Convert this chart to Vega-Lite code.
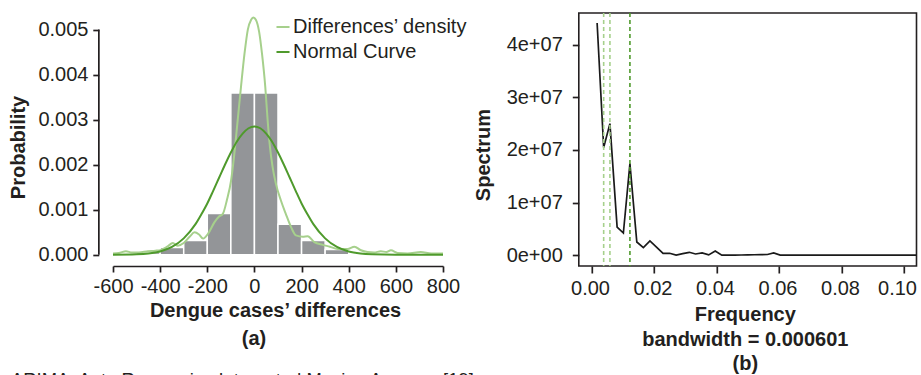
{
  "$schema": "https://vega.github.io/schema/vega-lite/v6.json",
  "background": "white",
  "padding": {"left": 7, "top": 11, "right": 0, "bottom": 0},
  "bounds": "flush",
  "spacing": 135.8,
  "title": {"text": "ARIMA: Auto Regressive Integrated Moving Average [19]", "orient": "bottom", "anchor": "start", "frame": "bounds", "offset": -4, "dx": 3, "fontSize": 18.4, "fontWeight": "normal", "font": "Liberation Sans", "color": "#231f20"},
  "config": {
    "font": "Liberation Sans",
    "view": {"stroke": null},
    "axis": {
      "grid": false,
      "labelFont": "Liberation Sans",
      "labelFontSize": 20,
      "labelColor": "#231f20",
      "titleFont": "Liberation Sans",
      "titleFontSize": 20,
      "titleFontWeight": "bold",
      "titleColor": "#231f20",
      "tickColor": "#231f20",
      "tickWidth": 1.7,
      "domainColor": "#231f20",
      "domainWidth": 1.7,
      "labelOverlap": false,
      "labelBound": false,
      "labelFlush": false
    }
  },
  "datasets": {
    "hist": [
      {"lo": -500, "hi": -400, "dens": 0.00005},
      {"lo": -400, "hi": -300, "dens": 0.00016},
      {"lo": -300, "hi": -200, "dens": 0.00032},
      {"lo": -200, "hi": -100, "dens": 0.000915},
      {"lo": -100, "hi": 0, "dens": 0.00359},
      {"lo": 0, "hi": 100, "dens": 0.00359},
      {"lo": 100, "hi": 200, "dens": 0.000677},
      {"lo": 200, "hi": 300, "dens": 0.00032},
      {"lo": 300, "hi": 400, "dens": 0.000115}
    ],
    "curves": [
      {"series": "Differences’ density", "x": -600, "p": 0.00003},
      {"series": "Differences’ density", "x": -575, "p": 0.00004},
      {"series": "Differences’ density", "x": -545, "p": 0.00008},
      {"series": "Differences’ density", "x": -520, "p": 0.00005},
      {"series": "Differences’ density", "x": -490, "p": 0.00005},
      {"series": "Differences’ density", "x": -452, "p": 0.00008},
      {"series": "Differences’ density", "x": -420, "p": 0.00009},
      {"series": "Differences’ density", "x": -396, "p": 0.00011},
      {"series": "Differences’ density", "x": -370, "p": 0.00018},
      {"series": "Differences’ density", "x": -346, "p": 0.00026},
      {"series": "Differences’ density", "x": -325, "p": 0.0002},
      {"series": "Differences’ density", "x": -300, "p": 0.00026},
      {"series": "Differences’ density", "x": -275, "p": 0.0004},
      {"series": "Differences’ density", "x": -254, "p": 0.0005},
      {"series": "Differences’ density", "x": -235, "p": 0.00045},
      {"series": "Differences’ density", "x": -218, "p": 0.00036},
      {"series": "Differences’ density", "x": -195, "p": 0.00048},
      {"series": "Differences’ density", "x": -170, "p": 0.00072},
      {"series": "Differences’ density", "x": -150, "p": 0.00085},
      {"series": "Differences’ density", "x": -134, "p": 0.00091},
      {"series": "Differences’ density", "x": -117, "p": 0.00121},
      {"series": "Differences’ density", "x": -99, "p": 0.00165},
      {"series": "Differences’ density", "x": -85, "p": 0.00225},
      {"series": "Differences’ density", "x": -71, "p": 0.00299},
      {"series": "Differences’ density", "x": -57, "p": 0.00373},
      {"series": "Differences’ density", "x": -42, "p": 0.00447},
      {"series": "Differences’ density", "x": -28, "p": 0.005},
      {"series": "Differences’ density", "x": -14, "p": 0.00522},
      {"series": "Differences’ density", "x": -5, "p": 0.00527},
      {"series": "Differences’ density", "x": 6, "p": 0.00522},
      {"series": "Differences’ density", "x": 20, "p": 0.00495},
      {"series": "Differences’ density", "x": 32, "p": 0.00447},
      {"series": "Differences’ density", "x": 46, "p": 0.00373},
      {"series": "Differences’ density", "x": 56, "p": 0.00299},
      {"series": "Differences’ density", "x": 66, "p": 0.00239},
      {"series": "Differences’ density", "x": 77, "p": 0.00195},
      {"series": "Differences’ density", "x": 91, "p": 0.00158},
      {"series": "Differences’ density", "x": 112, "p": 0.00121},
      {"series": "Differences’ density", "x": 133, "p": 0.00091},
      {"series": "Differences’ density", "x": 155, "p": 0.00062},
      {"series": "Differences’ density", "x": 176, "p": 0.00043},
      {"series": "Differences’ density", "x": 205, "p": 0.0004},
      {"series": "Differences’ density", "x": 226, "p": 0.00041},
      {"series": "Differences’ density", "x": 254, "p": 0.00028},
      {"series": "Differences’ density", "x": 290, "p": 0.00022},
      {"series": "Differences’ density", "x": 320, "p": 0.00018},
      {"series": "Differences’ density", "x": 353, "p": 0.00013},
      {"series": "Differences’ density", "x": 395, "p": 0.00013},
      {"series": "Differences’ density", "x": 424, "p": 0.00018},
      {"series": "Differences’ density", "x": 452, "p": 0.0001},
      {"series": "Differences’ density", "x": 480, "p": 0.00006},
      {"series": "Differences’ density", "x": 508, "p": 0.00005},
      {"series": "Differences’ density", "x": 536, "p": 0.00008},
      {"series": "Differences’ density", "x": 560, "p": 0.00006},
      {"series": "Differences’ density", "x": 579, "p": 0.0001},
      {"series": "Differences’ density", "x": 607, "p": 0.00004},
      {"series": "Differences’ density", "x": 650, "p": 0.00003},
      {"series": "Differences’ density", "x": 706, "p": 0.00006},
      {"series": "Differences’ density", "x": 750, "p": 0.00003},
      {"series": "Differences’ density", "x": 800, "p": 0.00003},
      {"series": "Normal Curve", "x": -600, "p": 0.0},
      {"series": "Normal Curve", "x": -500, "p": 0.00001},
      {"series": "Normal Curve", "x": -450, "p": 0.000028},
      {"series": "Normal Curve", "x": -400, "p": 0.000074},
      {"series": "Normal Curve", "x": -350, "p": 0.000174},
      {"series": "Normal Curve", "x": -300, "p": 0.000365},
      {"series": "Normal Curve", "x": -250, "p": 0.00068},
      {"series": "Normal Curve", "x": -225, "p": 0.0009},
      {"series": "Normal Curve", "x": -200, "p": 0.00114},
      {"series": "Normal Curve", "x": -175, "p": 0.00142},
      {"series": "Normal Curve", "x": -150, "p": 0.00171},
      {"series": "Normal Curve", "x": -125, "p": 0.002},
      {"series": "Normal Curve", "x": -100, "p": 0.00227},
      {"series": "Normal Curve", "x": -75, "p": 0.00251},
      {"series": "Normal Curve", "x": -50, "p": 0.00269},
      {"series": "Normal Curve", "x": -25, "p": 0.00281},
      {"series": "Normal Curve", "x": 0, "p": 0.00285},
      {"series": "Normal Curve", "x": 25, "p": 0.00281},
      {"series": "Normal Curve", "x": 50, "p": 0.00269},
      {"series": "Normal Curve", "x": 75, "p": 0.00251},
      {"series": "Normal Curve", "x": 100, "p": 0.00227},
      {"series": "Normal Curve", "x": 125, "p": 0.002},
      {"series": "Normal Curve", "x": 150, "p": 0.00171},
      {"series": "Normal Curve", "x": 175, "p": 0.00142},
      {"series": "Normal Curve", "x": 200, "p": 0.00114},
      {"series": "Normal Curve", "x": 225, "p": 0.0009},
      {"series": "Normal Curve", "x": 250, "p": 0.00068},
      {"series": "Normal Curve", "x": 300, "p": 0.000365},
      {"series": "Normal Curve", "x": 350, "p": 0.000174},
      {"series": "Normal Curve", "x": 400, "p": 0.000074},
      {"series": "Normal Curve", "x": 450, "p": 0.000028},
      {"series": "Normal Curve", "x": 500, "p": 0.00001},
      {"series": "Normal Curve", "x": 600, "p": 0.0},
      {"series": "Normal Curve", "x": 700, "p": 0.0},
      {"series": "Normal Curve", "x": 800, "p": 0.0}
    ],
    "spec": [
      {"f": 0.0018, "s": 44100000},
      {"f": 0.0039, "s": 20450000},
      {"f": 0.0059, "s": 25000000},
      {"f": 0.0082, "s": 5370000},
      {"f": 0.0102, "s": 4230000},
      {"f": 0.0123, "s": 17410000},
      {"f": 0.0145, "s": 2530000},
      {"f": 0.0166, "s": 1460000},
      {"f": 0.0187, "s": 2720000},
      {"f": 0.0208, "s": 1550000},
      {"f": 0.0229, "s": 380000},
      {"f": 0.025, "s": 380000},
      {"f": 0.0271, "s": 50000},
      {"f": 0.0292, "s": 320000},
      {"f": 0.0313, "s": 570000},
      {"f": 0.0333, "s": 250000},
      {"f": 0.0354, "s": 440000},
      {"f": 0.0375, "s": 80000},
      {"f": 0.0396, "s": 820000},
      {"f": 0.0417, "s": 20000},
      {"f": 0.0438, "s": 30000},
      {"f": 0.0458, "s": 50000},
      {"f": 0.0479, "s": 60000},
      {"f": 0.05, "s": 80000},
      {"f": 0.0521, "s": 100000},
      {"f": 0.0542, "s": 120000},
      {"f": 0.0563, "s": 150000},
      {"f": 0.0583, "s": 440000},
      {"f": 0.0604, "s": 40000},
      {"f": 0.0625, "s": 40000},
      {"f": 0.0667, "s": 35000},
      {"f": 0.0708, "s": 30000},
      {"f": 0.075, "s": 30000},
      {"f": 0.0792, "s": 25000},
      {"f": 0.0833, "s": 25000},
      {"f": 0.0875, "s": 20000},
      {"f": 0.0917, "s": 20000},
      {"f": 0.0958, "s": 20000},
      {"f": 0.1, "s": 15000},
      {"f": 0.1042, "s": 15000},
      {"f": 0.1063, "s": 15000}
    ],
    "lightmarks": [{"f": 0.0039}, {"f": 0.0059}],
    "darkmarks": [{"f": 0.0123}]
  },
  "hconcat": [
    {
      "width": 330,
      "height": 253,
      "title": {"text": "(a)", "orient": "bottom", "anchor": "middle", "dx": -24, "offset": 8, "fontSize": 20, "fontWeight": "bold", "font": "Liberation Sans", "color": "#231f20"},
      "layer": [
        {
          "data": {"name": "hist"},
          "mark": {"type": "bar", "fill": "#939598", "stroke": "white", "strokeWidth": 1.5},
          "encoding": {
            "x": {
              "field": "lo", "type": "quantitative",
              "scale": {"domain": [-600, 800], "nice": false, "zero": false},
              "axis": {
                "values": [-600, -400, -200, 0, 200, 400, 600, 800],
                "labelExpr": "'' + datum.value",
                "domain": true,
                "tickSize": 6,
                "labelPadding": 4.8,
                "title": "Dengue cases’ differences",
                "titleX": 162,
                "titleY": 50.9,
                "titleBaseline": "alphabetic",
                "titleAlign": "center"
              }
            },
            "x2": {"field": "hi"},
            "y": {
              "field": "dens", "type": "quantitative",
              "scale": {"domain": [-0.000249, 0.005369], "nice": false, "zero": false},
              "axis": {
                "values": [0, 0.001, 0.002, 0.003, 0.004, 0.005],
                "format": ".3f",
                "domain": false,
                "offset": 14.2,
                "tickSize": 6,
                "labelPadding": 4.8,
                "title": "Probability",
                "titleX": -74.8,
                "titleY": 134,
                "titleBaseline": "alphabetic",
                "titleAlign": "center",
                "titleAngle": -90
              }
            },
            "y2": {"datum": 0}
          }
        },
        {
          "data": {"name": "curves"},
          "mark": {"type": "line", "strokeWidth": 2, "interpolate": "monotone"},
          "encoding": {
            "x": {"field": "x", "type": "quantitative"},
            "y": {"field": "p", "type": "quantitative"},
            "color": {
              "field": "series", "type": "nominal",
              "scale": {"domain": ["Differences’ density", "Normal Curve"], "range": ["#a6d08c", "#4f9a2c"]},
              "legend": {
                "orient": "none", "legendX": 160, "legendY": 4, "title": null,
                "symbolType": "stroke", "symbolSize": 170, "symbolStrokeWidth": 2,
                "labelFontSize": 20, "labelFont": "Liberation Sans", "labelColor": "#231f20",
                "labelOffset": 0, "rowPadding": 5, "padding": 0, "labelLimit": 400
              }
            }
          }
        },
        {
          "data": {"values": [{}]},
          "mark": {"type": "rule", "color": "#231f20", "strokeWidth": 1.7},
          "encoding": {"x": {"datum": -660}, "y": {"datum": 0}, "y2": {"datum": 0.005}}
        }
      ]
    },
    {
      "width": 337.7,
      "height": 253,
      "view": {"stroke": "#231f20", "strokeWidth": 1.6},
      "layer": [
        {
          "data": {"name": "spec"},
          "mark": {"type": "line", "color": "#1a1a1a", "strokeWidth": 1.7, "clip": true},
          "encoding": {
            "x": {
              "field": "f", "type": "quantitative",
              "scale": {"domain": [-0.00406, 0.104], "nice": false, "zero": false},
              "axis": {
                "values": [0, 0.02, 0.04, 0.06, 0.08, 0.1],
                "format": ".2f",
                "domain": false,
                "tickSize": 7,
                "labelPadding": 5.5,
                "labelOffset": {"condition": {"test": "datum.value > 0.099", "value": -7}, "value": -1.5},
                "title": ["Frequency", "bandwidth = 0.000601", "(b)"],
                "titleX": 166,
                "titleY": 54.5,
                "titleBaseline": "alphabetic",
                "titleAlign": "center",
                "titleLineHeight": 24.7
              }
            },
            "y": {
              "field": "s", "type": "quantitative",
              "scale": {"domain": [-2032000, 46000000], "nice": false, "zero": false},
              "axis": {
                "values": [0, 10000000, 20000000, 30000000, 40000000],
                "labelExpr": "datum.value == 0 ? '0e+00' : (datum.value / 10000000) + 'e+07'",
                "domain": false,
                "tickSize": 6.5,
                "labelPadding": 10,
                "title": "Spectrum",
                "titleX": -89.8,
                "titleY": 141.5,
                "titleBaseline": "alphabetic",
                "titleAlign": "center",
                "titleAngle": -90
              }
            }
          }
        },
        {
          "data": {"name": "lightmarks"},
          "mark": {"type": "rule", "color": "#a6d08c", "strokeWidth": 1.6, "strokeDash": [4, 3]},
          "encoding": {"x": {"field": "f", "type": "quantitative"}}
        },
        {
          "data": {"name": "darkmarks"},
          "mark": {"type": "rule", "color": "#4f9a2c", "strokeWidth": 1.6, "strokeDash": [4, 3]},
          "encoding": {"x": {"field": "f", "type": "quantitative"}}
        }
      ]
    }
  ]
}
